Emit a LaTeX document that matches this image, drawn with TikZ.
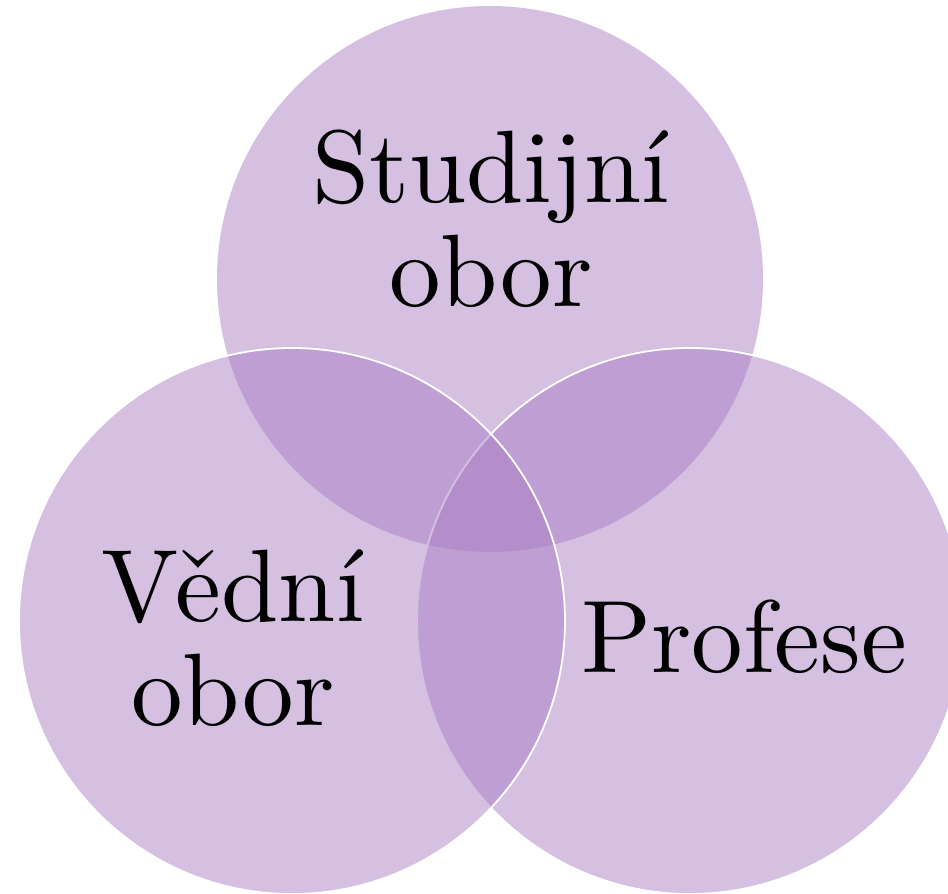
\documentclass[tikz,border=0pt]{standalone}
\usepackage{fontspec}
\setmainfont{lmroman10-regular}[Extension=.otf]
\definecolor{vennpurple}{RGB}{167,124,195}
\tikzset{
  venn/.style={fill=vennpurple, fill opacity=0.48},
  vennline/.style={venn, draw=white, draw opacity=1, line width=1.8pt},
  lbl/.style={align=center, inner sep=0pt, anchor=base, text opacity=1,
    font=\fontsize{103}{104}\selectfont}
}
\begin{document}
\begin{tikzpicture}[x=1pt,y=-1pt]
\useasboundingbox (0,0) rectangle (948,894);
\coordinate (ct) at (490,279);
\coordinate (cr) at (690,621);
\coordinate (cl) at (292,621);
\path[venn] (ct) circle[radius=273pt];
\path[vennline] (cr) circle[radius=273pt];
\path[vennline] (cl) circle[radius=273pt];
\node[lbl] (studijni) at (491,306) {Studijní\\obor};
\node[lbl] (vedni) at (233,725) {Vědní\\obor};
\node[lbl] (profese) at (744,672) {Profese};
\end{tikzpicture}
\end{document}
